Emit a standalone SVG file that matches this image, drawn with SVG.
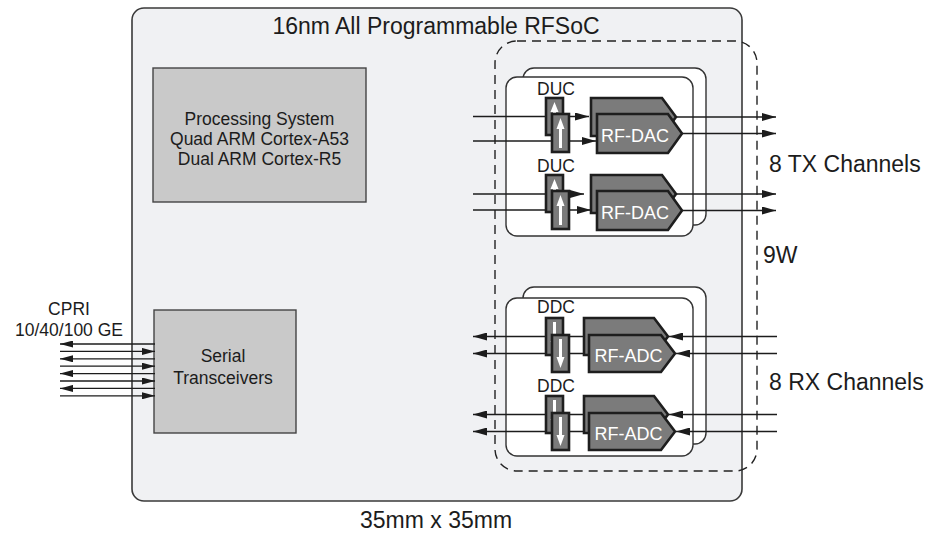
<svg xmlns="http://www.w3.org/2000/svg" width="930" height="533" viewBox="0 0 930 533">
<defs>
<style>
text{font-family:"Liberation Sans",Arial,sans-serif;fill:#1c1c1c}
.t23{font-size:23px}
.t18{font-size:17.5px}
.mid{text-anchor:middle}
.wt{fill:#ffffff;font-size:18px;text-anchor:middle}
.chip{fill:#f0f1f3;stroke:#3a3a3a;stroke-width:1.6}
.dash{fill:none;stroke:#222;stroke-width:1.4;stroke-dasharray:9 6}
.gbox{fill:#c9c9c9;stroke:#444;stroke-width:1.4}
.card{fill:#ffffff;stroke:#333;stroke-width:1.4}
.blk{fill:#7b7b7b;stroke:#1e1e1e;stroke-width:2.6;stroke-linejoin:miter}
.warr{fill:#ffffff;stroke:none}
.ln{stroke:#1c1c1c;stroke-width:1.3;fill:none}
.a1{marker-end:url(#ah)}
.a2{marker-end:url(#ahs)}
</style>
<marker id="ah" viewBox="0 0 14 8" refX="14" refY="4" markerWidth="14" markerHeight="8" orient="auto" markerUnits="userSpaceOnUse"><path d="M0,0 L14,4 L0,8 Z" fill="#1c1c1c"/></marker>
<marker id="ahs" viewBox="0 0 13 7" refX="13" refY="3.5" markerWidth="13" markerHeight="7" orient="auto" markerUnits="userSpaceOnUse"><path d="M0,0 L13,3.5 L0,7 Z" fill="#1c1c1c"/></marker>
</defs>

<g id="rfsoc">
<rect class="chip" x="132" y="8" width="610" height="493" rx="12"/>
<text class="t23 mid" x="436" y="34">16nm All Programmable RFSoC</text>
</g>

<g id="rf-region">
<rect class="dash" x="495" y="41" width="262" height="430" rx="22"/>
</g>

<g id="processing-system">
<rect class="gbox" x="153" y="68" width="213" height="134"/>
<text class="t18 mid" x="259.5" y="125">Processing System</text>
<text class="t18 mid" x="259.5" y="145">Quad ARM Cortex-A53</text>
<text class="t18 mid" x="259.5" y="165">Dual ARM Cortex-R5</text>
</g>

<g id="serial-transceivers">
<rect class="gbox" x="154" y="310" width="142" height="123"/>
<text class="t18 mid" x="223" y="362">Serial</text>
<text class="t18 mid" x="223" y="384">Transceivers</text>
</g>

<g id="tx-cards">
<rect class="card" x="523" y="68" width="183" height="157" rx="11"/>
<rect class="card" x="506" y="77" width="187" height="159" rx="11"/>
</g>
<g id="rx-cards">
<rect class="card" x="523" y="287" width="183" height="157" rx="11"/>
<rect class="card" x="506" y="298" width="187" height="158" rx="11"/>
</g>

<g id="connectors">
<!-- serial -->
<line class="ln a2" x1="155" y1="344" x2="60" y2="344"/>
<line class="ln a2" x1="60" y1="351.4" x2="155" y2="351.4"/>
<line class="ln a2" x1="155" y1="358.8" x2="60" y2="358.8"/>
<line class="ln a2" x1="60" y1="366.2" x2="155" y2="366.2"/>
<line class="ln a2" x1="155" y1="373.6" x2="60" y2="373.6"/>
<line class="ln a2" x1="60" y1="381" x2="155" y2="381"/>
<line class="ln a2" x1="155" y1="388.4" x2="60" y2="388.4"/>
<line class="ln a2" x1="60" y1="395.8" x2="155" y2="395.8"/>
<!-- TX inputs -->
<line class="ln a1" x1="473" y1="116.5" x2="589" y2="116.5"/>
<line class="ln a1" x1="473" y1="141" x2="596" y2="141"/>
<line class="ln a1" x1="473" y1="194" x2="584" y2="194"/>
<line class="ln a1" x1="473" y1="210" x2="591" y2="210"/>
<!-- TX outputs -->
<line class="ln a1" x1="676" y1="117" x2="776" y2="117"/>
<line class="ln a1" x1="682" y1="133.5" x2="776" y2="133.5"/>
<line class="ln a1" x1="676" y1="194" x2="776" y2="194"/>
<line class="ln a1" x1="682" y1="210.5" x2="776" y2="210.5"/>
<!-- RX inputs -->
<line class="ln a1" x1="777" y1="336.5" x2="669" y2="336.5"/>
<line class="ln a1" x1="777" y1="353.5" x2="676" y2="353.5"/>
<line class="ln a1" x1="777" y1="414.5" x2="669" y2="414.5"/>
<line class="ln a1" x1="777" y1="431.5" x2="676" y2="431.5"/>
<!-- RX outputs -->
<line class="ln a1" x1="586" y1="336.5" x2="473" y2="336.5"/>
<line class="ln a1" x1="590" y1="353.5" x2="473" y2="353.5"/>
<line class="ln a1" x1="586" y1="414.5" x2="473" y2="414.5"/>
<line class="ln a1" x1="590" y1="431.5" x2="473" y2="431.5"/>
</g>

<g id="duc-1">
<text class="t18 mid" x="556" y="95">DUC</text>
<rect class="blk" x="546" y="98" width="17" height="37"/>
<path class="warr" d="M554.5,102 L558.5,112 L556,112 L556,131 L553,131 L553,112 L550.5,112 Z"/>
<rect class="blk" x="552" y="114" width="17" height="38"/>
<path class="warr" d="M560.5,118 L564.5,129 L562,129 L562,148 L559,148 L559,129 L556.5,129 Z"/>
</g>
<g id="rf-dac-1">
<path class="blk" d="M591,98 H662 L676,117 L662,136 H591 Z"/>
<path class="blk" d="M597,114 H668 L682,133.5 L668,153 H597 Z"/>
<text class="wt" x="635" y="142">RF-DAC</text>
</g>

<g id="duc-2">
<text class="t18 mid" x="556" y="172">DUC</text>
<rect class="blk" x="546" y="175" width="17" height="37"/>
<path class="warr" d="M554.5,179 L558.5,189 L556,189 L556,208 L553,208 L553,189 L550.5,189 Z"/>
<rect class="blk" x="552" y="191" width="17" height="38"/>
<path class="warr" d="M560.5,195 L564.5,206 L562,206 L562,225 L559,225 L559,206 L556.5,206 Z"/>
</g>
<g id="rf-dac-2">
<path class="blk" d="M591,175 H662 L676,194 L662,213 H591 Z"/>
<path class="blk" d="M597,191 H668 L682,210.5 L668,230 H597 Z"/>
<text class="wt" x="635" y="219">RF-DAC</text>
</g>

<g id="ddc-1">
<text class="t18 mid" x="556" y="313">DDC</text>
<rect class="blk" x="546" y="318" width="17" height="37"/>
<path class="warr" d="M553,322 L556,322 L556,341 L558.5,341 L554.5,351 L550.5,341 L553,341 Z"/>
<rect class="blk" x="552" y="335" width="17" height="37"/>
<path class="warr" d="M559,339 L562,339 L562,357 L564.5,357 L560.5,368 L556.5,357 L559,357 Z"/>
</g>
<g id="rf-adc-1">
<path class="blk" d="M584,318 H654 L668,336.5 L654,355 H584 Z"/>
<path class="blk" d="M589,335 H661 L675,353.5 L661,372 H589 Z"/>
<text class="wt" x="628.5" y="362">RF-ADC</text>
</g>

<g id="ddc-2">
<text class="t18 mid" x="556" y="392">DDC</text>
<rect class="blk" x="546" y="396" width="17" height="37"/>
<path class="warr" d="M553,400 L556,400 L556,419 L558.5,419 L554.5,429 L550.5,419 L553,419 Z"/>
<rect class="blk" x="552" y="413" width="17" height="37"/>
<path class="warr" d="M559,417 L562,417 L562,435 L564.5,435 L560.5,446 L556.5,435 L559,435 Z"/>
</g>
<g id="rf-adc-2">
<path class="blk" d="M584,396 H654 L668,414.5 L654,433 H584 Z"/>
<path class="blk" d="M589,413 H661 L675,431.5 L661,450 H589 Z"/>
<text class="wt" x="628.5" y="440">RF-ADC</text>
</g>

<g id="labels">
<text class="t18 mid" x="69" y="315">CPRI</text>
<text class="t18 mid" x="69" y="336">10/40/100 GE</text>
<text class="t23" x="769" y="172">8 TX Channels</text>
<text class="t23" x="763" y="263">9W</text>
<text class="t23" x="769" y="390">8 RX Channels</text>
<text class="t23 mid" x="436" y="528">35mm x 35mm</text>
</g>
</svg>
